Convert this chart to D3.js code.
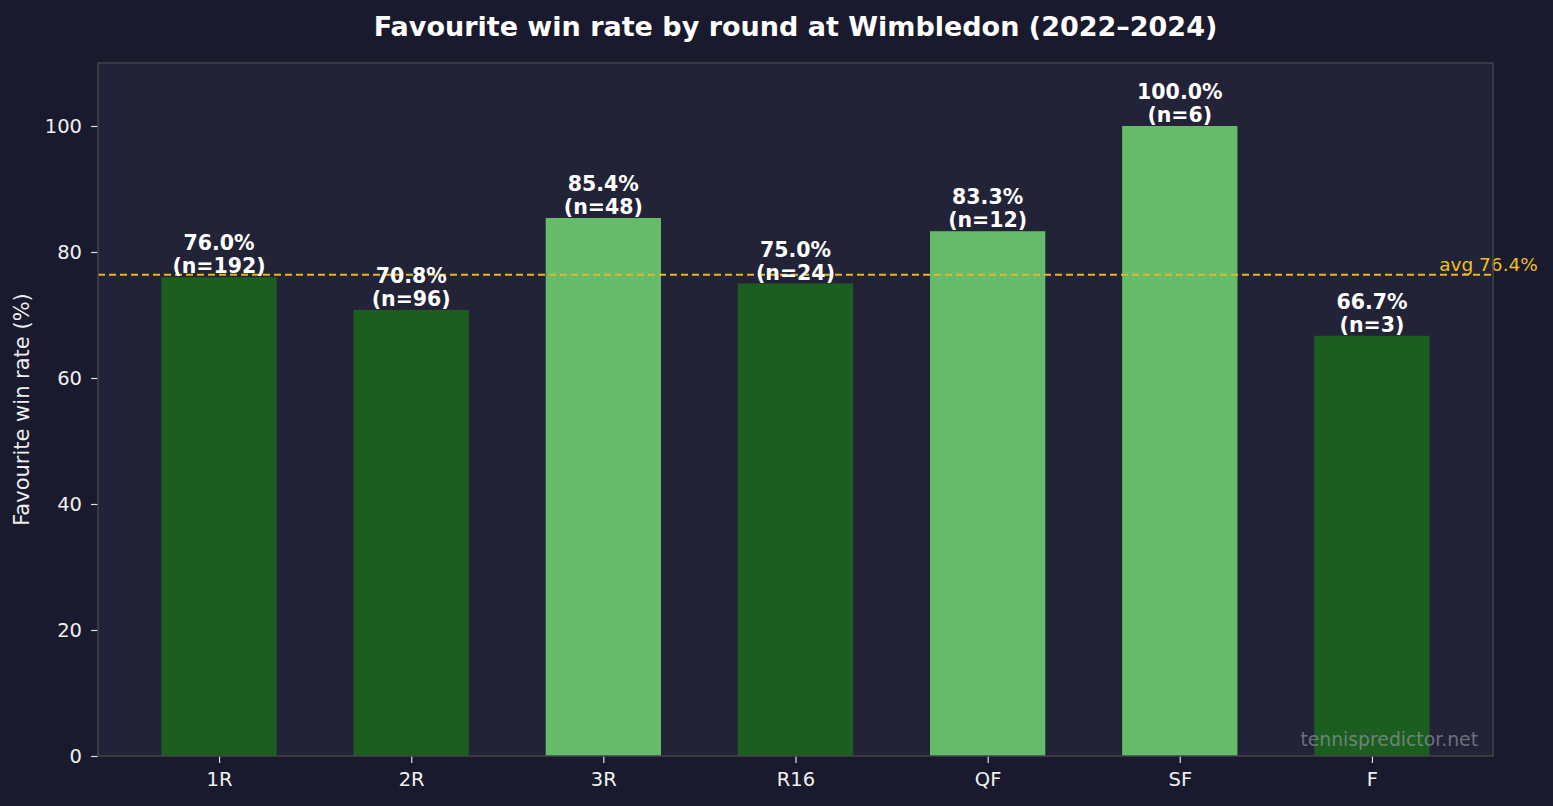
<!DOCTYPE html>
<html>
<head>
<meta charset="utf-8">
<script src="https://cdn.jsdelivr.net/npm/d3@7"></script>
<style>
  html, body { margin: 0; padding: 0; background: #1a1a2e; }
  svg { display: block; font-family: "DejaVu Sans", sans-serif; }
</style>
</head>
<body>
<div id="chart"></div>
<script>
const rounds = ['1R', '2R', '3R', 'R16', 'QF', 'SF', 'F'];
const winRates = [76.0, 70.8, 85.4, 75.0, 83.3, 100.0, 66.7];
const matchCounts = [192, 96, 48, 24, 12, 6, 3];
const avgRate = 76.4;
const yTicks = [0, 20, 40, 60, 80, 100];

const width = 1553, height = 806;
const margin = {top: 63, right: 60, bottom: 50, left: 98};
const plotW = width - margin.left - margin.right;
const plotH = height - margin.top - margin.bottom;

var svg = d3.select('#chart').append('svg')
  .attr('width', width)
  .attr('height', height);

svg.append('rect')
  .attr('width', width).attr('height', height)
  .attr('fill', '#1a1a2e');

var g = svg.append('g')
  .attr('transform', `translate(${margin.left}, ${margin.top})`);

// matplotlib style: bar width 0.6, 5% margins on each side
var xScale = d3.scaleLinear()
  .domain([-0.63, rounds.length - 1 + 0.63])
  .range([0, plotW]);
var yScale = d3.scaleLinear()
  .domain([0, 110])
  .range([plotH, 0]);
const barW = xScale(0.6) - xScale(0);

g.append('rect')
  .attr('width', plotW).attr('height', plotH)
  .attr('fill', '#232338');

var data = rounds.map((r, i) => ({round: r, rate: winRates[i], n: matchCounts[i], i: i}));

g.selectAll('rect.bar')
  .data(data)
  .enter().append('rect')
  .attr('class', 'bar')
  .attr('x', d => xScale(d.i) - barW / 2)
  .attr('y', d => yScale(d.rate))
  .attr('width', barW)
  .attr('height', d => plotH - yScale(d.rate))
  .attr('fill', d => d.rate > avgRate ? '#66bb6a' : '#1b5e20');

// average line
g.append('line')
  .attr('x1', 0).attr('x2', plotW)
  .attr('y1', yScale(avgRate)).attr('y2', yScale(avgRate))
  .attr('stroke', '#e6b820')
  .attr('stroke-width', 2)
  .attr('stroke-dasharray', '7,4');

g.append('text')
  .attr('x', xScale(6.35))
  .attr('y', yScale(avgRate) - 4)
  .attr('fill', '#f0c020')
  .attr('font-size', 18.5)
  .text(`avg ${avgRate.toFixed(1)}%`);

// bar labels
var labels = g.selectAll('text.val')
  .data(data)
  .enter().append('text')
  .attr('class', 'val')
  .attr('text-anchor', 'middle')
  .attr('fill', '#ffffff')
  .attr('font-weight', 'bold')
  .attr('font-size', 20.5);
labels.append('tspan')
  .attr('x', d => xScale(d.i))
  .attr('y', d => yScale(d.rate) - 27)
  .text(d => d.rate.toFixed(1) + '%');
labels.append('tspan')
  .attr('x', d => xScale(d.i))
  .attr('y', d => yScale(d.rate) - 4)
  .text(d => `(n=${d.n})`);

// axes
var xAxis = g.append('g')
  .attr('transform', `translate(0, ${plotH})`)
  .call(d3.axisBottom(xScale).tickValues(d3.range(rounds.length))
    .tickFormat(i => rounds[i]).tickSize(7).tickPadding(9));
var yAxis = g.append('g')
  .call(d3.axisLeft(yScale).tickValues(yTicks).tickSize(7).tickPadding(9));

[xAxis, yAxis].forEach(a => {
  a.select('.domain').remove();
  a.selectAll('line').attr('stroke', '#dddddd').attr('stroke-width', 1.2);
  a.selectAll('text').attr('fill', '#f0f0f0').attr('font-size', 19.5)
    .attr('font-family', '"DejaVu Sans", sans-serif');
});

// frame
g.append('rect')
  .attr('width', plotW).attr('height', plotH)
  .attr('fill', 'none')
  .attr('stroke', '#444444')
  .attr('stroke-width', 1.5);

// watermark
g.append('text')
  .attr('x', plotW - 15)
  .attr('y', plotH - 10)
  .attr('text-anchor', 'end')
  .attr('fill', '#9a9aa6')
  .attr('fill-opacity', 0.65)
  .attr('font-size', 18.8)
  .text('tennispredictor.net');

// y label
svg.append('text')
  .attr('transform', `translate(29, ${margin.top + plotH / 2}) rotate(-90)`)
  .attr('text-anchor', 'middle')
  .attr('fill', '#eeeeee')
  .attr('font-size', 21)
  .text('Favourite win rate (%)');

// title
svg.append('text')
  .attr('x', margin.left + plotW / 2)
  .attr('y', 36)
  .attr('text-anchor', 'middle')
  .attr('fill', '#ffffff')
  .attr('font-weight', 'bold')
  .attr('font-size', 27)
  .text('Favourite win rate by round at Wimbledon (2022–2024)');
</script>
</body>
</html>
